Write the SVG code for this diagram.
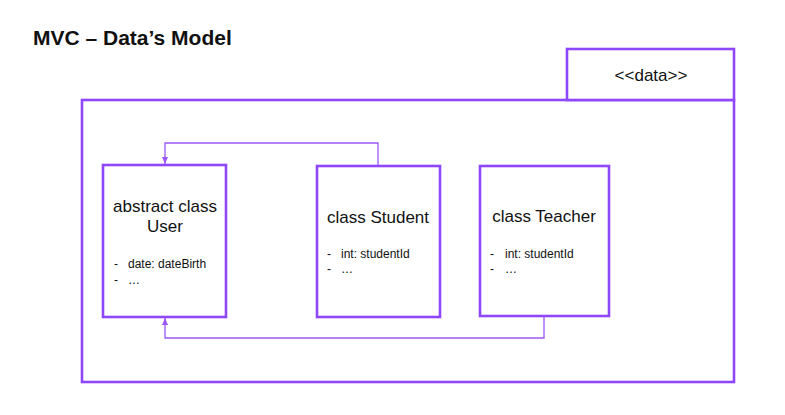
<svg xmlns="http://www.w3.org/2000/svg" width="785" height="415" viewBox="0 0 785 415">
<style>
.box{fill:#fff;stroke:#8f47fb;stroke-width:2.6}
.conn{fill:none;stroke:#9d57fb;stroke-width:1.3}
.t{font-family:"Liberation Sans",Arial,sans-serif;fill:#111}
.title{font-family:"Liberation Sans",Arial,sans-serif;font-weight:bold;font-size:21px;fill:#111}
.name{font-size:17px;text-anchor:middle}
.attr{font-size:12px}
</style>
<defs>
<marker id="arr" markerWidth="8" markerHeight="8" refX="7" refY="4" orient="auto" markerUnits="userSpaceOnUse">
<path d="M0,1 L7,4 L0,7 Z" fill="#9d57fb"/>
</marker>
</defs>
<rect width="785" height="415" fill="#fff"/>
<text class="title" x="33" y="45">MVC – Data’s Model</text>
<g id="package">
<rect class="box" x="82" y="100" width="652" height="282"/>
<rect class="box" x="567" y="49" width="167" height="51"/>
<text class="t" x="651" y="81" font-size="17" text-anchor="middle">&lt;&lt;data&gt;&gt;</text>
</g>
<g id="connectors">
<path class="conn" d="M378,166 V143 H165 V164" marker-end="url(#arr)"/>
<path class="conn" d="M544,316 V338 H165 V318" marker-end="url(#arr)"/>
</g>
<g id="user">
<rect class="box" x="103" y="165" width="123" height="152"/>
<text class="t name" x="165" y="212">abstract class</text>
<text class="t name" x="165" y="232">User</text>
<text class="t attr" x="114" y="268">-</text>
<text class="t attr" x="128" y="268">date: dateBirth</text>
<text class="t attr" x="114" y="284">-</text>
<text class="t attr" x="128" y="284">…</text>
</g>
<g id="student">
<rect class="box" x="317" y="166" width="123" height="151"/>
<text class="t name" x="378" y="223">class Student</text>
<text class="t attr" x="327" y="258">-</text>
<text class="t attr" x="341" y="258">int: studentId</text>
<text class="t attr" x="327" y="273">-</text>
<text class="t attr" x="341" y="273">…</text>
</g>
<g id="teacher">
<rect class="box" x="480" y="166" width="129" height="150"/>
<text class="t name" x="544" y="222">class Teacher</text>
<text class="t attr" x="490" y="258">-</text>
<text class="t attr" x="505" y="258">int: studentId</text>
<text class="t attr" x="490" y="273">-</text>
<text class="t attr" x="505" y="273">…</text>
</g>
</svg>
